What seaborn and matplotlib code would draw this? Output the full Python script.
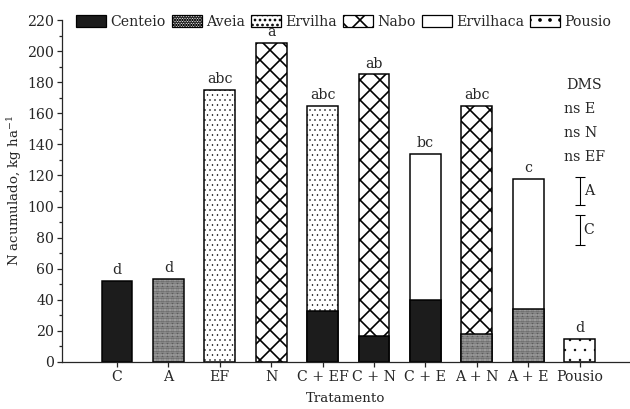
import matplotlib
matplotlib.use("Agg")
import matplotlib.pyplot as plt
from matplotlib.patches import Patch
from matplotlib.ticker import MultipleLocator
import seaborn as sns
import pandas as pd

# Treatments and accumulated N (kg/ha)
tratamentos = ["C", "A", "EF", "N", "C + EF", "C + N", "C + E", "A + N", "A + E", "Pousio"]

# lower layer (or single species) for every treatment
base_especie = ["Centeio", "Aveia", "Ervilha", "Nabo", "Centeio", "Centeio", "Centeio", "Aveia", "Aveia", "Pousio"]
base_valor = [52, 53.5, 175, 205, 33, 17, 40, 18, 34, 15]

# upper layer (total height) for the consortia
topo_trat = ["C + EF", "C + N", "C + E", "A + N", "A + E"]
topo_especie = ["Ervilha", "Nabo", "Ervilhaca", "Nabo", "Ervilhaca"]
topo_total = [165, 185, 134, 165, 118]

letras = ["d", "d", "abc", "a", "abc", "ab", "bc", "abc", "c", "d"]
totais = [52, 53.5, 175, 205, 165, 185, 134, 165, 118, 15]

especies = ["Centeio", "Aveia", "Ervilha", "Nabo", "Ervilhaca", "Pousio"]
cores = {"Centeio": "#1c1c1c", "Aveia": "white", "Ervilha": "white",
         "Nabo": "white", "Ervilhaca": "white", "Pousio": "white"}
hachuras = {"Centeio": "", "Aveia": "......", "Ervilha": "..",
            "Nabo": "x", "Ervilhaca": "", "Pousio": "."}
larg_hachura = {"Centeio": 1.0, "Aveia": 1.4, "Ervilha": 0.6,
                "Nabo": 2.0, "Ervilhaca": 1.0, "Pousio": 0.5}

# DMS annotations
dms_textos = ["ns E", "ns N", "ns EF"]
dms_y = [163, 147, 132]
dms_barras = {"A": (101, 119), "C": (75, 94.5)}

sns.set_style("ticks")
plt.rcParams["font.family"] = ["DejaVu Serif"]
plt.rcParams["mathtext.fontset"] = "dejavuserif"
plt.rcParams["hatch.linewidth"] = 2.0

fig = plt.figure(figsize=(10.5, 409 / 60), dpi=60)
ax = fig.add_axes([0.0984, 0.115, 0.9016, 0.836])

df_topo = pd.DataFrame({"trat": topo_trat, "n": topo_total, "esp": topo_especie})
df_base = pd.DataFrame({"trat": tratamentos, "n": base_valor, "esp": base_especie})


def aplica_hachura(p, esp):
    p.set_hatch(hachuras[esp])
    p.set_edgecolor("black")
    if hasattr(p, "set_hatch_linewidth"):
        p.set_hatch_linewidth(larg_hachura[esp])


for df in [df_topo, df_base]:
    ordem_hue = [e for e in especies if e in df["esp"].values]
    sns.barplot(data=df, x="trat", y="n", hue="esp", order=tratamentos,
                hue_order=ordem_hue, dodge=False, width=0.6,
                palette={e: cores[e] for e in ordem_hue},
                edgecolor="black", linewidth=1.8, saturation=1,
                legend=False, ax=ax)
    for cont, esp in zip(ax.containers[-len(ordem_hue):], ordem_hue):
        for p in cont:
            aplica_hachura(p, esp)

# significance letters
for i, (t, l) in enumerate(zip(totais, letras)):
    ax.text(i, t + 2.5, l, ha="center", va="bottom", fontsize=17)

# DMS block
ax.text(9.09, 178, "DMS", ha="center", va="center", fontsize=17)
for txt, yy in zip(dms_textos, dms_y):
    ax.text(8.7, yy, txt, ha="left", va="center", fontsize=17)
for lab, (y0, y1) in dms_barras.items():
    ax.errorbar(9.0, (y0 + y1) / 2, yerr=(y1 - y0) / 2, color="black",
                capsize=6, elinewidth=1.3, capthick=1.3)
    ax.text(9.08, (y0 + y1) / 2, lab, ha="left", va="center", fontsize=17)

ax.set_xlim(-1.07, 9.98)
ax.set_ylim(0, 220)
ax.yaxis.set_major_locator(MultipleLocator(20))
ax.yaxis.set_minor_locator(MultipleLocator(10))
ax.tick_params(axis="both", which="major", labelsize=17, length=6, width=1.5, direction="out")
ax.tick_params(axis="y", which="minor", length=3.5, width=1.5)
for s in ["top", "right"]:
    ax.spines[s].set_visible(False)
for s in ["left", "bottom"]:
    ax.spines[s].set_linewidth(1.5)

ax.set_xlabel("Tratamento", fontsize=16, labelpad=10)
ax.set_ylabel("N acumulado, kg ha$^{-1}$", fontsize=16, labelpad=4)

handles = []
for e in especies:
    h = Patch(facecolor=cores[e], edgecolor="black", linewidth=1.5, label=e)
    aplica_hachura(h, e)
    handles.append(h)
ax.legend(handles=handles, loc="center left", bbox_to_anchor=(0.015, 0.995), ncol=6,
          frameon=False, fontsize=17, handlelength=2.1, handleheight=0.9,
          handletextpad=0.3, columnspacing=0.45, borderaxespad=0)

fig.savefig("out.png", dpi=60)
